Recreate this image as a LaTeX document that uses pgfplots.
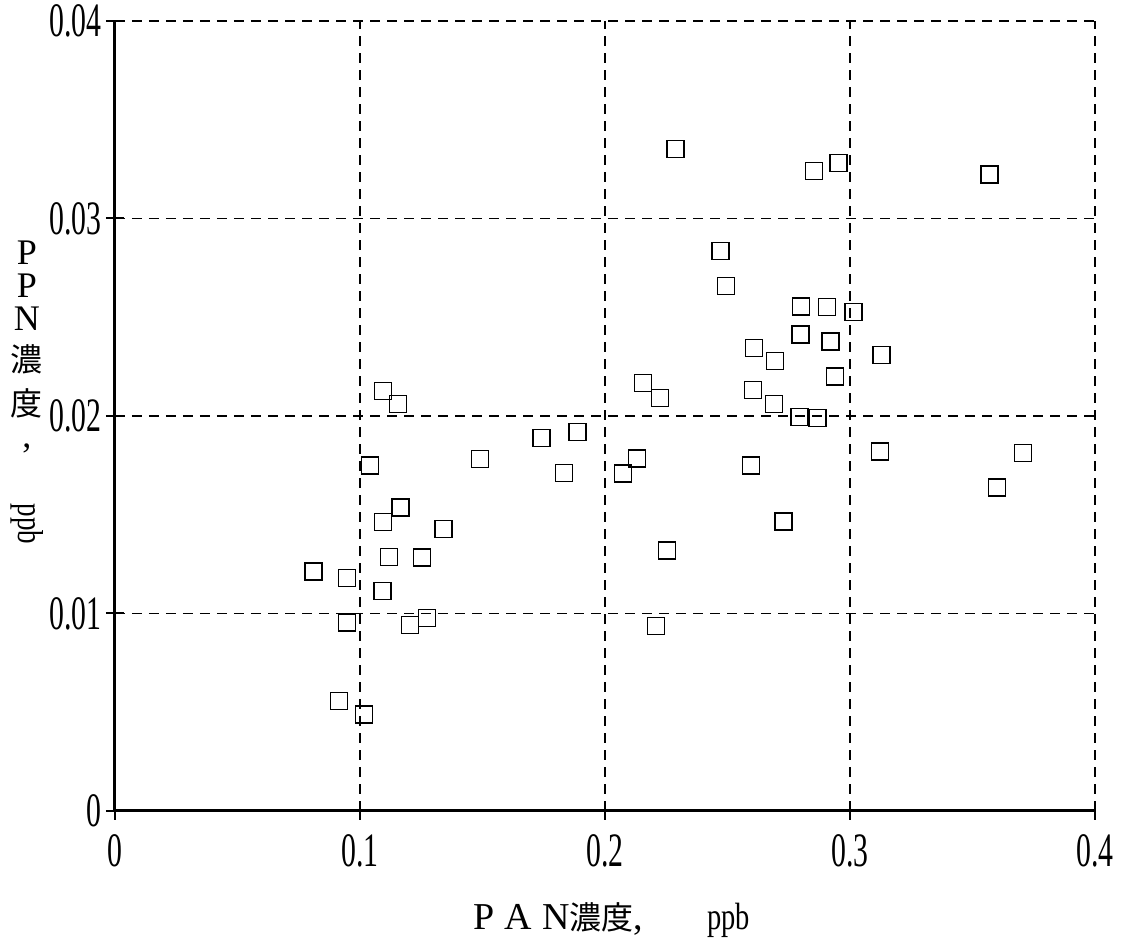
\documentclass[border=0pt]{standalone}
\usepackage{pgfplots}
\pgfplotsset{compat=1.18}
\usepackage{fontspec}
\setmainfont{Liberation Serif}
\newfontfamily\cjk{Noto Sans CJK JP}
\begin{document}
\begin{tikzpicture}
\begin{axis}[
  scale only axis, width=490pt, height=395pt,
  xmin=0, xmax=0.4, ymin=0, ymax=0.04,
  axis x line=bottom, axis y line=left,
  axis line style={line width=1.5pt,-,black},
  xtick={0,0.1,0.2,0.3,0.4}, xticklabels={0,0.1,0.2,0.3,0.4},
  ytick={0,0.01,0.02,0.03,0.04}, yticklabels={0,0.01,0.02,0.03,0.04},
  scaled ticks=false,
  tick align=center, major tick length=9pt, tick style={line width=1pt,black},
  grid=major, grid style={black, line width=0.8pt, dash pattern=on 5pt off 3.5pt},
  ticklabel style={font=\fontsize{24}{24}\selectfont, xscale=0.62},
  xticklabel style={yshift=-4pt},
  /pgf/number format/assume math mode=true,
  xlabel={\fontsize{19}{19}\selectfont P\hspace{5pt}A\hspace{5pt}N{\cjk\fontsize{16}{16}\selectfont 濃度},\hspace{32pt}\scalebox{0.75}[1]{ppb}},
  xlabel style={at={(axis description cs:0.507,0)}, anchor=center, yshift=-54.5pt},
  ylabel={\fontsize{18}{16}\selectfont\begin{tabular}{@{}c@{}}P\\P\\N\\[2pt]{\cjk\fontsize{16}{16}\selectfont 濃}\\[4pt]{\cjk\fontsize{16}{16}\selectfont 度}\\,\\[12pt]\rotatebox{-90}{\scalebox{0.75}[1]{ppb}}\end{tabular}},
  ylabel style={rotate=-90, at={(axis description cs:-0.09,0.53)}, anchor=center},
]
\addplot[only marks, mark=square, mark size=4.25pt, mark options={line width=0.7pt, black, solid}] table {
x y
0.0811 0.01213
0.0946 0.01181
0.0948 0.00954
0.0915 0.00556
0.1017 0.00489
0.1041 0.0175
0.1093 0.02128
0.1154 0.02062
0.1165 0.01537
0.1095 0.01462
0.1340 0.01429
0.1118 0.01285
0.1253 0.01284
0.1092 0.01114
0.1205 0.00941
0.1274 0.00976
0.1490 0.01781
0.1740 0.01889
0.1887 0.01918
0.1832 0.01712
0.2131 0.01785
0.2073 0.01709
0.2253 0.01319
0.2209 0.00936
0.2288 0.03352
0.2854 0.0324
0.2953 0.0328
0.3569 0.03223
0.2471 0.02835
0.2494 0.02658
0.2799 0.02555
0.2905 0.02553
0.3015 0.02527
0.2798 0.02413
0.2920 0.02377
0.2609 0.02345
0.2695 0.02278
0.3128 0.02309
0.2939 0.0220
0.2155 0.02167
0.2224 0.02091
0.2604 0.02133
0.2689 0.02061
0.2794 0.01995
0.2867 0.01989
0.3123 0.0182
0.3707 0.01814
0.3599 0.01638
0.2596 0.01749
0.2728 0.01466
};
\coordinate (sw) at (rel axis cs:0,0);
\coordinate (ne) at (rel axis cs:1,1);
\end{axis}
\pgfresetboundingbox
\path ([shift={(-57.5pt,-70pt)}]sw) rectangle ([shift={(17pt,10.5pt)}]ne);
\end{tikzpicture}
\end{document}
